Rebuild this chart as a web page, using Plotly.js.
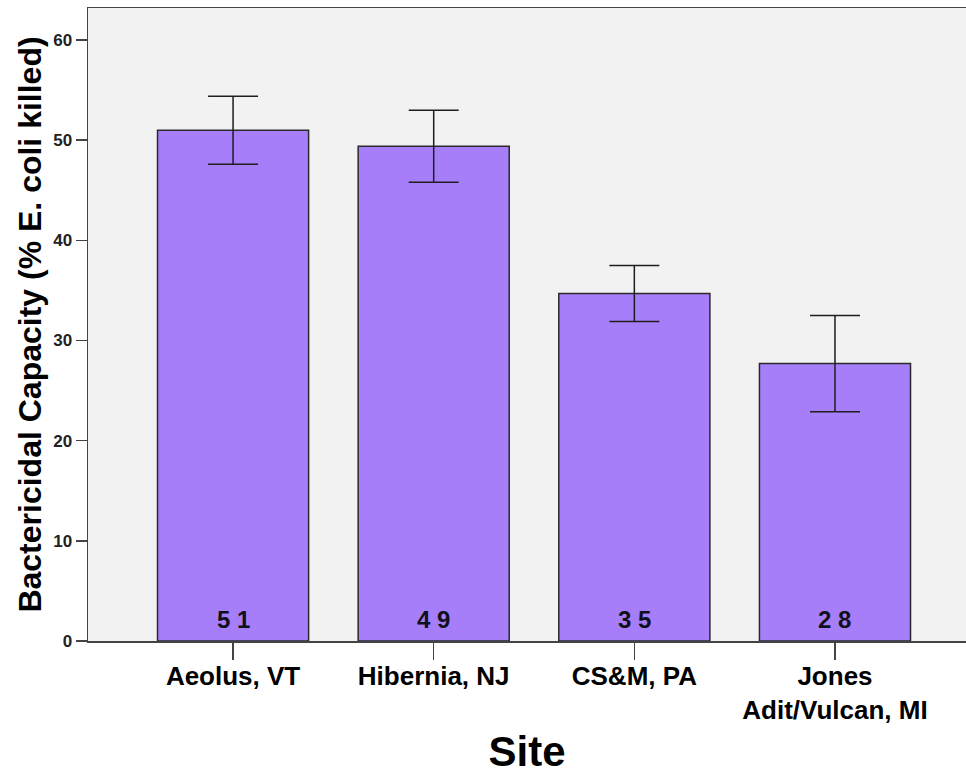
<!DOCTYPE html>
<html>
<head>
<meta charset="utf-8">
<script src="https://cdn.plot.ly/plotly-3.0.1.min.js"></script>
<style>html,body{margin:0;padding:0;background:#fff;}#chart{width:966px;height:775px;}</style>
</head>
<body>
<div id="chart"></div>
<script>
const sites = ["Aeolus, VT", "Hibernia, NJ", "CS&M, PA", "Jones<br>Adit/Vulcan, MI"];
const means = [51.0, 49.4, 34.7, 27.7];
const errors = [3.4, 3.6, 2.8, 4.8];
const barLabels = ["5 1", "4 9", "3 5", "2 8"];
const yTicks = [0, 10, 20, 30, 40, 50, 60];

const FONT = "'Liberation Sans', Arial, Helvetica, sans-serif";

const trace = {
  type: "bar",
  x: sites,
  y: means,
  width: 0.753,
  marker: { color: "#a77ef9", line: { color: "#2a2a2a", width: 1.5 } },
  error_y: { type: "data", array: errors, visible: true, color: "#1e1e1e", thickness: 1.5, width: 25 },
  hoverinfo: "none"
};

const annotations = sites.map((s, i) => ({
  x: s, y: 0, xref: "x", yref: "y",
  text: "<b>" + barLabels[i] + "</b>",
  showarrow: false,
  yanchor: "bottom",
  yshift: 6,
  font: { family: FONT, size: 24, color: "#10101c" }
}));

const layout = {
  width: 966, height: 775,
  margin: { l: 88, r: 0, t: 8, b: 134 },
  paper_bgcolor: "#ffffff",
  plot_bgcolor: "#f2f2f2",
  showlegend: false,
  font: { family: FONT, color: "#000" },
  annotations: annotations,
  xaxis: {
    type: "category",
    range: [-0.723, 3.653],
    showline: true, linecolor: "#444", linewidth: 1.5, mirror: true,
    ticks: "outside", ticklen: 17, tickcolor: "#444", tickwidth: 1.5,
    ticklabelstandoff: -6,
    tickfont: { family: FONT, size: 26, color: "#000", weight: "bold" },
    showgrid: false, zeroline: false,
    title: { text: "Site", font: { family: FONT, size: 42, color: "#000", weight: "bold" }, standoff: 18 }
  },
  yaxis: {
    range: [0, 63.2],
    tickvals: yTicks,
    ticktext: yTicks.map(String),
    showline: true, linecolor: "#444", linewidth: 1.5,
    ticks: "outside", ticklen: 11, tickcolor: "#444", tickwidth: 1.5,
    tickfont: { family: FONT, size: 17, color: "#222", weight: "bold" },
    showgrid: false, zeroline: false,
    title: { text: "Bactericidal Capacity (% E. coli killed)", font: { family: FONT, size: 32, color: "#000", weight: "bold" }, standoff: 2 }
  }
};

Plotly.newPlot("chart", [trace], layout, { displayModeBar: false, staticPlot: true });
</script>
</body>
</html>
